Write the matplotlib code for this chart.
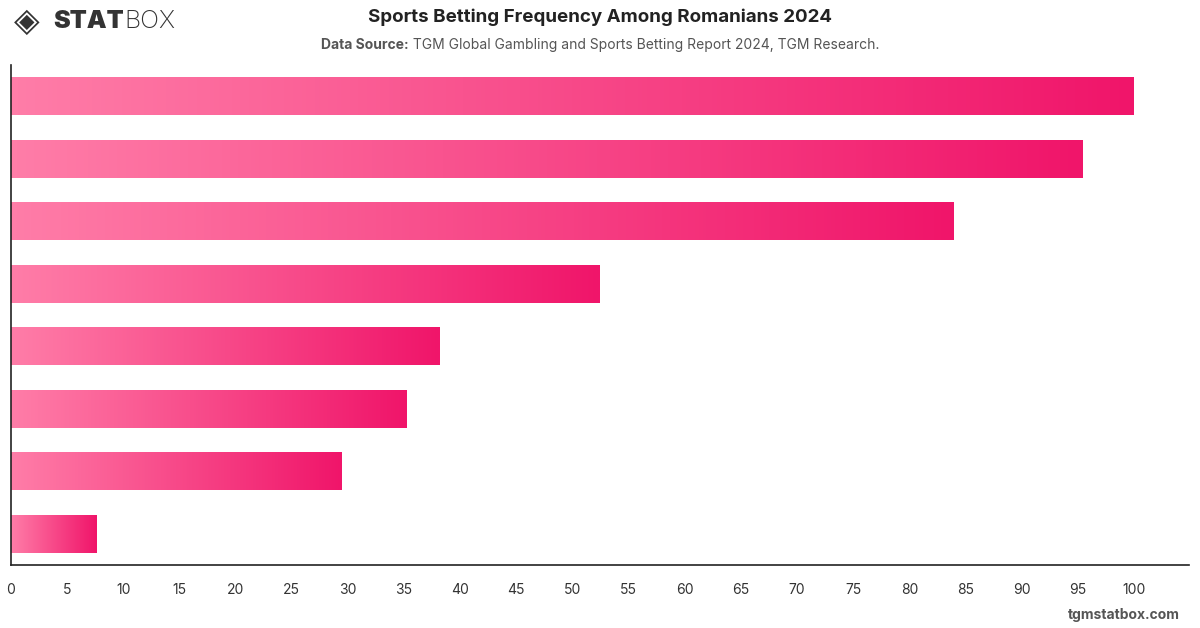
import numpy as np
import matplotlib.pyplot as plt
from matplotlib.colors import LinearSegmentedColormap

# frequency categories (labels not shown on the chart), share values
categories = ["c1", "c2", "c3", "c4", "c5", "c6", "c7", "c8"]
values = [100, 95.4, 83.9, 52.4, 38.2, 35.2, 29.4, 7.6]
xticks = list(range(0, 101, 5))

plt.rcParams['font.family'] = ['Inter', 'DejaVu Sans']

fig = plt.figure(figsize=(12, 6.28), dpi=100)
ax = fig.add_axes([0.0092, 0.1003, 0.9816, 0.7962])

cmap = LinearSegmentedColormap.from_list("pinkgrad", ["#FF7DA8", "#F0156A"])
grad = np.linspace(0, 1, 256).reshape(1, -1)

ypos = np.arange(len(categories))
bars = ax.barh(ypos, values, height=0.61, facecolor="none", edgecolor="none")
for b in bars:
    x0, y0, w, h = b.get_x(), b.get_y(), b.get_width(), b.get_height()
    im = ax.imshow(grad, extent=[x0, x0 + w, y0, y0 + h], aspect="auto",
                   cmap=cmap, interpolation="bicubic", origin="lower")
    im.set_clip_path(b)

ax.set_xlim(0, 104.9)
ax.set_ylim(len(categories) - 0.5, -0.5)
ax.set_xticks(xticks)
ax.set_xticklabels([str(t) for t in xticks], fontsize=10, color="#333333")
ax.set_yticks([])
ax.tick_params(axis="x", length=0, pad=13)
for s in ["top", "right"]:
    ax.spines[s].set_visible(False)
for s in ["left", "bottom"]:
    ax.spines[s].set_color("#222222")
    ax.spines[s].set_linewidth(1.2)

fig.text(0.5, 0.972, "Sports Betting Frequency Among Romanians 2024",
         ha="center", va="center", fontsize=13.5, fontweight="bold", color="#222222")

# subtitle: bold lead + normal rest, centred together
renderer = fig.canvas.get_renderer()
t1 = fig.text(0, 0.929, "Data Source:", ha="left", va="center", fontsize=10,
              fontweight="bold", color="#555555")
t2 = fig.text(0, 0.929, " TGM Global Gambling and Sports Betting Report 2024, TGM Research.",
              ha="left", va="center", fontsize=10, color="#555555")
w1 = t1.get_window_extent(renderer).width / fig.bbox.width
w2 = t2.get_window_extent(renderer).width / fig.bbox.width
start = 0.5 - (w1 + w2) / 2
t1.set_x(start)
t2.set_x(start + w1)

# logo
fig.text(0.012, 0.966, "◈", ha="left", va="center", fontsize=24, color="#333333",
         family="DejaVu Sans", fontweight="bold")
s1 = fig.text(0.044, 0.966, "STAT", ha="left", va="center", fontsize=18,
              fontweight="black", color="#333333")
ws = s1.get_window_extent(renderer).width / fig.bbox.width
fig.text(0.044 + ws + 0.001, 0.966, "BOX", ha="left", va="center", fontsize=18,
         fontweight="light", color="#333333")

fig.text(0.983, 0.02, "tgmstatbox.com", ha="right", va="center", fontsize=10,
         fontweight="bold", color="#555555")

fig.savefig("out.png", dpi=100)
